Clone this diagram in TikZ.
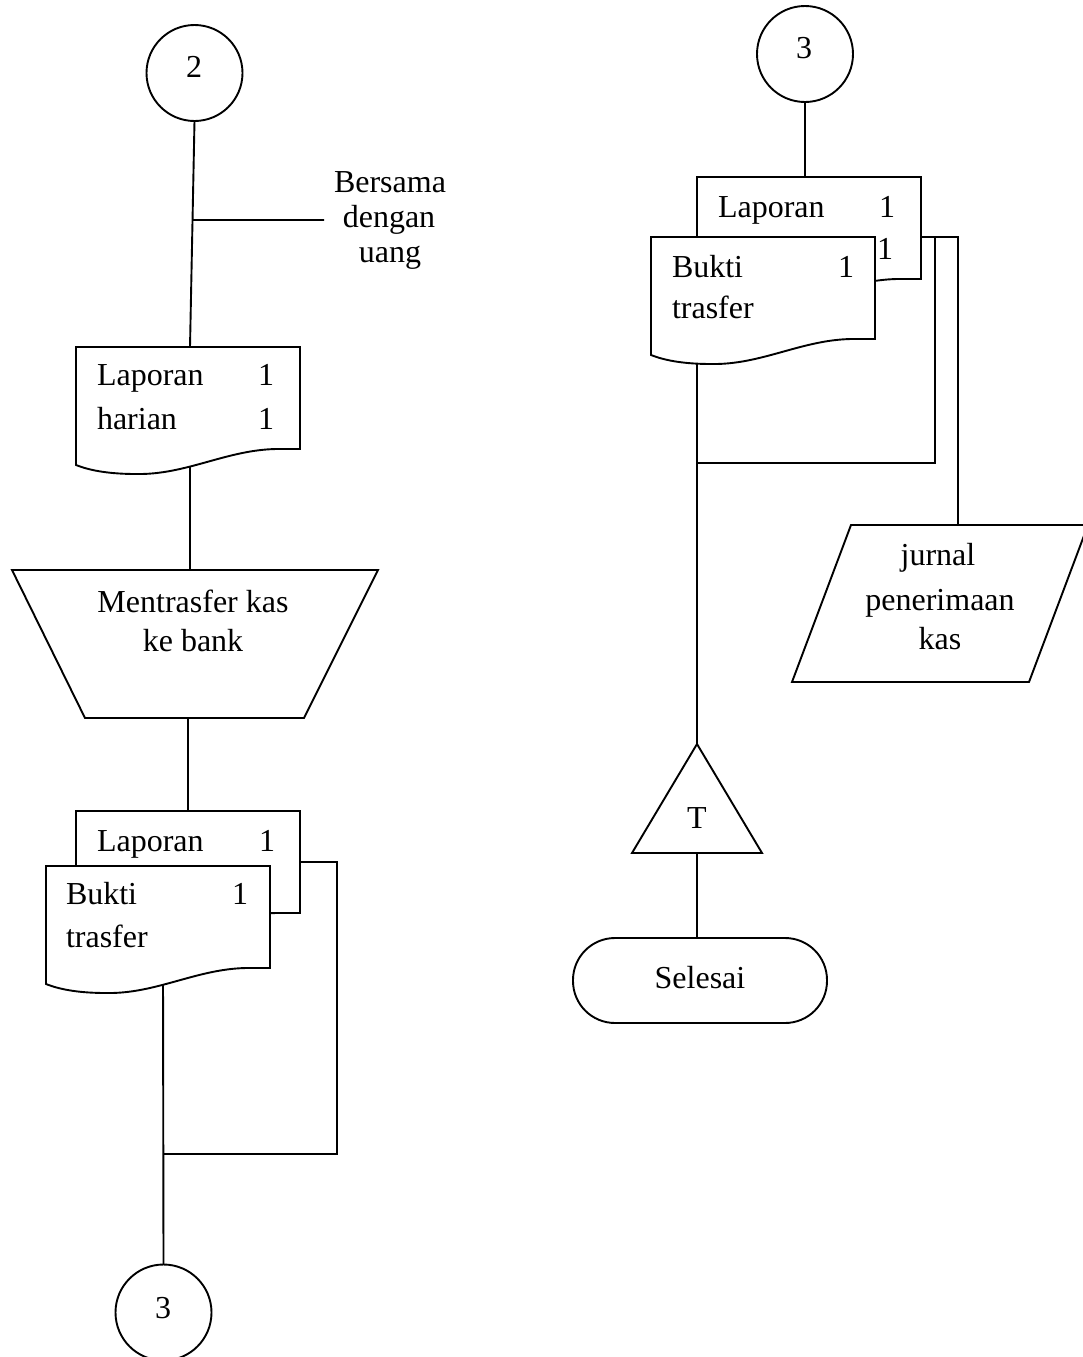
\documentclass[tikz,border=0pt]{standalone}
\usepackage{fontspec}
\setmainfont{Liberation Serif}
\usetikzlibrary{calc}

\tikzset{
  ln/.style={line width=1.9pt, line join=miter},
  outline/.style={ln, draw=black, fill=white},
  conn/.style={circle, ln, draw=black, fill=white, minimum size=96pt, inner sep=0pt, outer sep=0pt},
  sheetbox/.style={inner sep=0pt, outer sep=0pt, minimum width=224pt, minimum height=102pt, anchor=north west},
  area/.style 2 args={inner sep=0pt, outer sep=0pt, minimum width=#1, minimum height=#2},
  lbl/.style={font=\fontsize{32}{38}\selectfont, inner sep=0pt, outer sep=0pt, anchor=base west},
  clbl/.style={lbl, anchor=base},
}

% document symbol: flat top, wavy bottom edge
\newcommand\sheetoutline[1]{%
  \draw[outline] (#1.north west) -- (#1.north east) -- (#1.south east) -- ++(-24,0)
    .. controls +(-50,1) and +(50,1) .. ++(-140,25)
    .. controls +(-25,0) and +(15,6) .. ++(-60,-9) -- cycle;}

\begin{document}
\begin{tikzpicture}[x=1pt,y=-1pt]
\clip (0,0) rectangle (1083,1357);

% ---- frames of the symbols ----
\node[conn] (c2) at (194.5,73) {};
\node[sheetbox] (d1) at (76,347) {};
\node[area={366}{148}] (tr) at (195,644) {};
\node[sheetbox] (d2b) at (76,811) {};
\node[sheetbox] (d2f) at (46,866) {};
\node[conn] (c3L) at (163.5,1312.5) {};

\node[conn] (c3R) at (805,54) {};
\node[sheetbox] (d3b) at (697,177) {};
\node[sheetbox] (d3f) at (651,237) {};
\node[area={296}{157}] (pj) at (940,603.5) {};
\node[area={130}{109}] (tri) at (697,798.5) {};
\node[ln, draw=black, rounded corners=42pt, minimum width=254pt, minimum height=85pt, inner sep=0pt] (fin) at (700,980.5) {};

% ---- connection points ----
\coordinate (d1in) at ([xshift=2pt]d1.north);
\coordinate (br) at ($(c2.south)!0.438!(d1in)$);
\coordinate (brend) at (324,220);
\coordinate (d1out) at ([xshift=2pt]d1.south);
\coordinate (d2out) at ($(d2f.south west)+(117,0)$);
\coordinate (lr) at ($(d2b.east)+(37,0)$);
\coordinate (lj) at ($(d2f.south west)+(117,186)$);

\coordinate (d3in) at (c3R.south |- d3b.north);
\coordinate (rb) at ($(d3b.north east)+(0,60)$);
\coordinate (j1) at ($(rb)+(14,0)$);
\coordinate (j2) at ($(rb)+(37,0)$);
\coordinate (d3out) at ($(d3f.south west)+(46,0)$);
\coordinate (rj) at ($(d3out)+(0,124)$);

% ---- connectors ----
\draw[ln] (c2.south) -- (d1in);
\draw[ln] (br) -- (brend);
\draw[ln] (d1out) -- (d1out |- tr.north);
\draw[ln] (d2b.north |- tr.south) -- (d2b.north);
\draw[ln] (d2b.east) -- (lr) |- (lj);
\draw[ln] (d2out) -- (c3L.north);

\draw[ln] (c3R.south) -- (d3in);
\draw[ln] (rb) -- (j2) -- (j2 |- pj.north);
\draw[ln] (j1) |- (rj);
\draw[ln] (d3out) -- (tri.north);
\draw[ln] (tri.south) -- (tri.south |- fin.north);

% ---- left column symbols and texts ----
\node[clbl] (t2) at (194,77) {2};
\node[clbl] (nb1) at (390,192) {Bersama};
\node[clbl] (nb2) at (389,227) {dengan};
\node[clbl] (nb3) at (390,262) {uang};

\sheetoutline{d1}
\node[lbl] (d1a) at ($(d1.north west)+(21,38)$) {Laporan};
\node[clbl] (d1b) at ($(d1.north west)+(190,38)$) {1};
\node[lbl] (d1c) at ($(d1.north west)+(21,82)$) {harian};
\node[clbl] (d1d) at ($(d1.north west)+(190,82)$) {1};

\draw[outline] (tr.north west) -- (tr.north east) -- ($(tr.south east)+(-74,0)$) -- ($(tr.south west)+(73,0)$) -- cycle;
\node[clbl] (tra) at (193,612) {Mentrasfer kas};
\node[clbl] (trb) at (193,651) {ke bank};

\sheetoutline{d2b}
\node[lbl] (d2ba) at ($(d2b.north west)+(21,40)$) {Laporan};
\node[clbl] (d2bb) at ($(d2b.north west)+(191,40)$) {1};
\sheetoutline{d2f}
\node[lbl] (d2fa) at ($(d2f.north west)+(20,38)$) {Bukti};
\node[clbl] (d2fb) at ($(d2f.north west)+(194,38)$) {1};
\node[lbl] (d2fc) at ($(d2f.north west)+(20,81)$) {trasfer};

\node[clbl] (t3L) at (163,1318) {3};

% ---- right column symbols and texts ----
\node[clbl] (t3R) at (804,58) {3};

\sheetoutline{d3b}
\node[lbl] (d3ba) at ($(d3b.north west)+(21,40)$) {Laporan};
\node[clbl] (d3bb) at ($(d3b.north west)+(190,40)$) {1};
\node[clbl] (d3bc) at ($(d3b.north west)+(188,82)$) {1};
\sheetoutline{d3f}
\node[lbl] (d3fa) at ($(d3f.north west)+(21,40)$) {Bukti};
\node[clbl] (d3fb) at ($(d3f.north west)+(195,40)$) {1};
\node[lbl] (d3fc) at ($(d3f.north west)+(21,81)$) {trasfer};

\draw[outline] ($(pj.north west)+(59,0)$) -- (pj.north east) -- ($(pj.south east)+(-59,0)$) -- (pj.south west) -- cycle;
\node[clbl] (pja) at (938,565) {jurnal};
\node[clbl] (pjb) at (940,610) {penerimaan};
\node[clbl] (pjc) at (940,649) {kas};

\draw[outline] (tri.north) -- (tri.south east) -- (tri.south west) -- cycle;
\node[clbl] (tt) at (697,828) {T};

\node[clbl] (fint) at (700,988) {Selesai};
\end{tikzpicture}
\end{document}
